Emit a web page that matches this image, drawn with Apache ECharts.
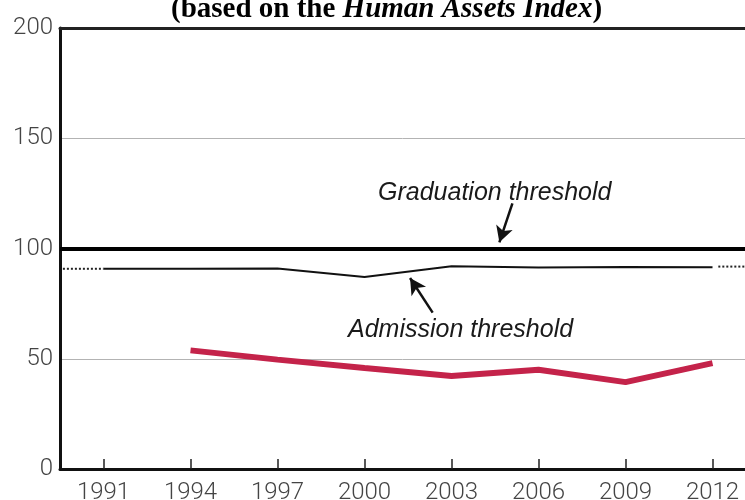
<!DOCTYPE html>
<html>
<head>
<meta charset="utf-8">
<script src="https://cdn.jsdelivr.net/npm/echarts@6/dist/echarts.min.js"></script>
<style>
  html, body { margin: 0; padding: 0; background: #fff; }
  #chart { width: 745px; height: 500px; }
</style>
</head>
<body>
<div id="chart"></div>
<script>
// tick years on the x axis
const years = [1991, 1994, 1997, 2000, 2003, 2006, 2009, 2012]
const yTicks = [0, 50, 100, 150, 200]

// admission threshold (thin black line)
const admission = [90.8, 90.8, 90.9, 87.1, 92.0, 91.4, 91.6, 91.5]
// dotted extensions before 1991 and after 2012
const admissionBefore = [[1989.6, 90.8], [1991, 90.8]]
const admissionAfter = [[2012.2, 91.8], [2013.2, 91.8]]

// red series (starts in 1994)
const redYears = [1994, 1997, 2000, 2003, 2006, 2009, 2012]
const redValues = [53.8, 49.6, 45.8, 42.2, 45.0, 39.4, 48.0]

const graduation = 100

// annotation arrows, in data units [year, value]
const gradArrow = [[2005.1, 120.5], [2004.65, 102.8]]
const admArrow = [[2002.35, 70.9], [2001.57, 86.6]]

const chart = echarts.init(document.getElementById('chart'))

const pairs = (xs, ys) => xs.map((x, i) => [x, ys[i]])

chart.setOption({
  animation: false,
  title: {
    text: '{b|(based on the }{i|Human Assets Index}{b|)}',
    left: 166,
    top: -10,
    textStyle: {
      rich: {
        b: { fontFamily: 'Liberation Serif', fontWeight: 'bold', fontSize: 29, color: '#000' },
        i: { fontFamily: 'Liberation Serif', fontWeight: 'bold', fontStyle: 'italic', fontSize: 29, color: '#000' }
      }
    }
  },
  grid: {
    left: 60,
    right: 0,
    top: 28,
    bottom: 31,
    containLabel: false,
    outerBoundsMode: 'none'
  },
  xAxis: [
    {
      type: 'value',
      min: 1989.5,
      max: 2013.12,
      axisLine: {
        show: true,
        onZero: false,
        lineStyle: { color: '#111', width: 3 }
      },
      axisTick: {
        show: true,
        inside: true,
        length: 10,
        customValues: years,
        lineStyle: { color: '#222', width: 1.5 }
      },
      axisLabel: {
        customValues: years,
        formatter: v => String(Math.round(v)),
        fontFamily: 'Roboto',
        fontWeight: 300,
        fontSize: 24,
        color: '#444',
        margin: 12
      },
      splitLine: { show: false }
    },
    {
      type: 'value',
      position: 'top',
      min: 1989.5,
      max: 2013.12,
      axisLine: {
        show: true,
        onZero: false,
        lineStyle: { color: '#222', width: 3 }
      },
      axisTick: { show: false },
      axisLabel: { show: false },
      splitLine: { show: false }
    }
  ],
  yAxis: {
    type: 'value',
    min: 0,
    max: 200,
    interval: 50,
    axisLine: {
      show: true,
      lineStyle: { color: '#111', width: 3 }
    },
    axisTick: { show: false },
    axisLabel: {
      formatter: v => yTicks.includes(v) ? String(v) : '',
      fontFamily: 'Roboto',
      fontWeight: 300,
      fontSize: 24,
      color: '#444',
      margin: 7
    },
    splitLine: {
      lineStyle: { color: '#b3b3b3', width: 1 }
    }
  },
  graphic: [
    {
      type: 'text',
      left: 378,
      top: 181,
      style: {
        text: 'Graduation threshold',
        font: 'italic 25px "Liberation Sans"',
        fill: '#1a1a1a'
      }
    },
    {
      type: 'text',
      left: 348,
      top: 318,
      style: {
        text: 'Admission threshold',
        font: 'italic 25px "Liberation Sans"',
        fill: '#1a1a1a'
      }
    }
  ],
  series: [
    {
      name: 'Admission threshold',
      type: 'line',
      data: pairs(years, admission),
      symbol: 'none',
      lineStyle: { color: '#111', width: 2 },
      z: 3,
      markLine: {
        silent: true,
        animation: false,
        label: { show: false },
        data: [
          [
            { coord: gradArrow[0], symbol: 'none' },
            { coord: gradArrow[1], symbol: 'arrow', symbolSize: [13, 16] }
          ],
          [
            { coord: admArrow[0], symbol: 'none' },
            { coord: admArrow[1], symbol: 'arrow', symbolSize: [13, 16] }
          ]
        ],
        lineStyle: { color: '#111', width: 2.5, type: 'solid' }
      }
    },
    {
      name: 'Graduation threshold',
      type: 'line',
      data: [],
      markLine: {
        silent: true,
        animation: false,
        symbol: 'none',
        label: { show: false },
        data: [{ yAxis: graduation }],
        lineStyle: { color: '#000', width: 4, type: 'solid' }
      }
    },
    {
      type: 'line',
      data: admissionBefore,
      symbol: 'none',
      lineStyle: { color: '#222', width: 2, type: [2, 2] }
    },
    {
      type: 'line',
      data: admissionAfter,
      symbol: 'none',
      lineStyle: { color: '#222', width: 2, type: [2, 2] }
    },
    {
      name: 'Index',
      type: 'line',
      data: pairs(redYears, redValues),
      symbol: 'none',
      lineStyle: { color: '#c4234a', width: 6 },
      z: 4
    }
  ]
})
</script>
</body>
</html>
